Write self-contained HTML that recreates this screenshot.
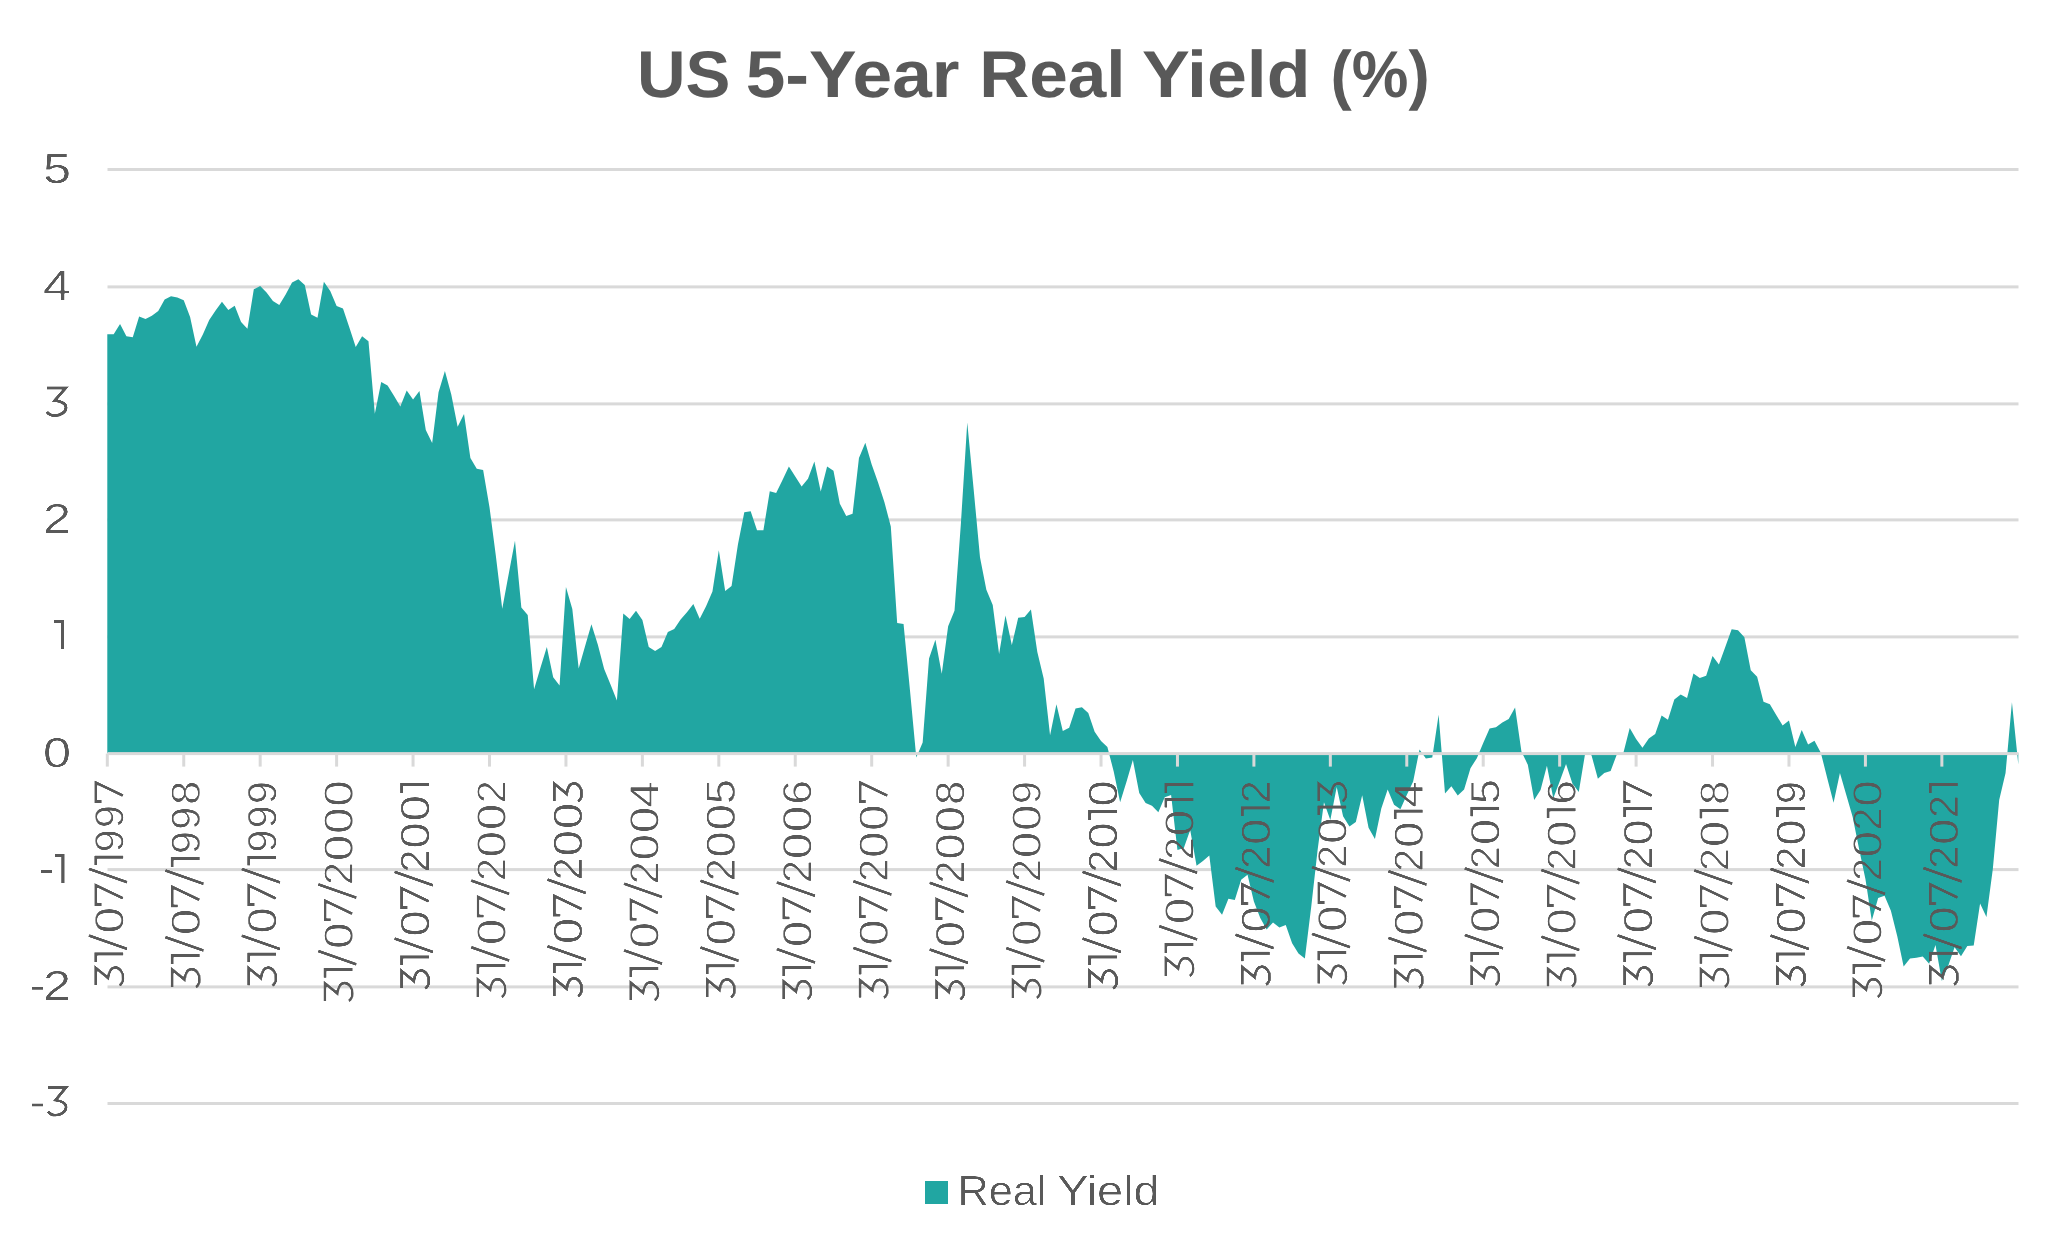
<!DOCTYPE html>
<html><head><meta charset="utf-8"><title>US 5-Year Real Yield (%)</title>
<style>
html,body{margin:0;padding:0;background:#fff;}
body{width:2068px;height:1258px;overflow:hidden;}
svg{display:block;font-family:"Liberation Sans", sans-serif;text-rendering:geometricPrecision;}
</style></head>
<body>
<svg width="2068" height="1258" viewBox="0 0 2068 1258">
<defs><filter id="thin" x="-20%" y="-20%" width="140%" height="140%" color-interpolation-filters="sRGB"><feGaussianBlur stdDeviation="0.6"/><feComponentTransfer><feFuncA type="linear" slope="2.5" intercept="-1.5"/></feComponentTransfer></filter></defs>
<rect width="2068" height="1258" fill="#fff"/>
<rect x="107.5" y="168.00" width="1911" height="3" fill="#d9d9d9"/>
<rect x="107.5" y="285.40" width="1911" height="3" fill="#d9d9d9"/>
<rect x="107.5" y="402.40" width="1911" height="3" fill="#d9d9d9"/>
<rect x="107.5" y="518.40" width="1911" height="3" fill="#d9d9d9"/>
<rect x="107.5" y="635.40" width="1911" height="3" fill="#d9d9d9"/>
<rect x="107.5" y="868.10" width="1911" height="3" fill="#d9d9d9"/>
<rect x="107.5" y="985.40" width="1911" height="3" fill="#d9d9d9"/>
<rect x="107.5" y="1102.00" width="1911" height="3" fill="#d9d9d9"/>
<polygon points="107.30,753.25 107.30,334.20 113.67,334.20 120.04,323.90 126.41,336.20 132.78,337.20 139.15,316.50 145.52,319.10 151.89,315.70 158.26,310.90 164.63,299.40 171.00,296.20 177.37,297.40 183.74,300.20 190.11,316.90 196.48,346.70 202.85,334.40 209.22,320.10 215.59,310.50 221.96,301.80 228.33,310.10 234.70,305.80 241.07,322.10 247.44,328.80 253.81,289.30 260.18,286.10 266.55,292.40 272.92,301.00 279.29,304.90 285.66,294.40 292.03,282.50 298.40,279.30 304.77,284.90 311.14,314.40 317.51,317.70 323.88,281.70 330.25,290.90 336.62,306.00 342.99,308.40 349.36,327.50 355.73,346.90 362.10,336.20 368.47,341.30 374.84,413.70 381.21,382.10 387.58,385.40 393.95,395.80 400.32,406.50 406.69,390.60 413.06,399.50 419.43,390.90 425.80,430.10 432.17,442.90 438.54,392.30 444.91,371.10 451.28,394.50 457.65,426.80 464.02,414.00 470.39,457.90 476.76,468.80 483.13,470.10 489.50,507.20 495.87,555.90 502.24,608.80 508.61,574.50 514.98,540.80 521.35,607.50 527.72,615.10 534.09,689.20 540.46,667.80 546.83,646.90 553.20,677.30 559.57,685.40 565.94,587.00 572.31,609.10 578.68,668.40 585.05,646.30 591.42,624.30 597.79,644.50 604.16,669.00 610.53,684.50 616.90,700.60 623.27,613.50 629.64,618.90 636.01,610.80 642.38,620.10 648.75,646.90 655.12,651.00 661.49,646.90 667.86,632.00 674.23,629.00 680.60,619.40 686.97,612.30 693.34,603.90 699.71,618.80 706.08,606.30 712.45,591.40 718.82,550.30 725.19,591.00 731.56,586.10 737.93,544.50 744.30,512.30 750.67,511.20 757.04,530.20 763.41,530.20 769.78,491.30 776.15,493.00 782.52,480.10 788.89,466.50 795.26,476.50 801.63,486.50 808.00,478.70 814.37,461.50 820.74,491.60 827.11,466.50 833.48,470.80 839.85,503.70 846.22,515.90 852.59,513.70 858.96,457.90 865.33,442.80 871.70,464.50 878.07,482.50 884.44,502.20 890.81,526.60 897.18,623.00 903.55,624.00 909.92,689.70 916.29,757.50 922.66,742.40 929.03,658.60 935.40,639.70 941.77,673.70 948.14,626.20 954.51,610.80 960.88,523.70 967.25,422.60 973.62,489.00 979.99,557.20 986.36,589.70 992.73,605.00 999.10,654.00 1005.47,615.50 1011.84,645.00 1018.21,617.80 1024.58,617.00 1030.95,609.60 1037.32,652.00 1043.69,678.40 1050.06,735.20 1056.43,704.30 1062.80,731.00 1069.17,727.70 1075.54,708.50 1081.91,707.30 1088.28,713.00 1094.65,731.80 1101.02,741.00 1107.39,747.00 1113.76,771.70 1120.13,802.30 1126.50,781.70 1132.87,760.00 1139.24,793.00 1145.61,803.00 1151.98,805.80 1158.35,812.30 1164.72,797.30 1171.09,795.10 1177.46,850.00 1183.83,848.00 1190.20,830.00 1196.57,865.80 1202.94,861.00 1209.31,855.50 1215.68,906.50 1222.05,914.70 1228.42,898.80 1234.79,899.90 1241.16,879.80 1247.53,874.70 1253.90,901.40 1260.27,917.90 1266.64,929.40 1273.01,922.40 1279.38,927.50 1285.75,924.90 1292.12,943.30 1298.49,953.50 1304.86,958.60 1311.23,906.70 1317.60,850.00 1323.97,802.20 1330.34,820.00 1336.71,787.00 1343.08,816.20 1349.45,826.40 1355.82,821.90 1362.19,795.20 1368.56,827.70 1374.93,839.10 1381.30,808.60 1387.67,789.50 1394.04,804.80 1400.41,809.20 1406.78,795.00 1413.15,781.50 1419.52,749.40 1425.89,758.60 1432.26,757.50 1438.63,714.80 1445.00,793.50 1451.37,786.30 1457.74,795.40 1464.11,789.60 1470.48,768.20 1476.85,758.20 1483.22,742.90 1489.59,728.60 1495.96,727.20 1502.33,722.40 1508.70,719.10 1515.07,707.60 1521.44,751.50 1527.81,764.80 1534.18,800.10 1540.55,790.10 1546.92,765.80 1553.29,798.20 1559.66,781.60 1566.03,763.90 1572.40,783.50 1578.77,792.00 1585.14,753.40 1591.51,755.30 1597.88,778.70 1604.25,773.00 1610.62,771.00 1616.99,754.00 1623.36,753.00 1629.73,728.10 1636.10,739.10 1642.47,747.70 1648.84,738.50 1655.21,734.00 1661.58,715.50 1667.95,719.70 1674.32,699.40 1680.69,694.40 1687.06,698.00 1693.43,673.40 1699.80,678.00 1706.17,675.80 1712.54,655.90 1718.91,664.60 1725.28,647.00 1731.65,629.30 1738.02,630.30 1744.39,637.20 1750.76,670.20 1757.13,676.80 1763.50,701.80 1769.87,704.20 1776.24,714.90 1782.61,725.50 1788.98,720.60 1795.35,747.00 1801.72,730.00 1808.09,744.40 1814.46,740.80 1820.83,752.70 1827.20,778.00 1833.57,802.80 1839.94,772.90 1846.31,795.00 1852.68,817.00 1859.05,848.80 1865.42,879.00 1871.79,920.40 1878.16,898.10 1884.53,895.70 1890.90,910.80 1897.27,936.30 1903.64,966.50 1910.01,958.50 1916.38,957.70 1922.75,956.50 1929.12,963.80 1935.49,945.00 1941.86,981.00 1948.23,965.70 1954.60,947.30 1960.97,956.20 1967.34,946.10 1973.71,945.50 1980.08,903.50 1986.45,916.90 1992.82,869.10 1999.19,800.10 2005.56,773.00 2011.93,702.20 2018.30,764.50 2018.30,753.25" fill="#21a6a2"/>
<rect x="107.5" y="752.10" width="1911" height="3" fill="#d9d9d9"/>
<rect x="105.80" y="753.60" width="3" height="13.00" fill="#d9d9d9"/>
<rect x="182.24" y="753.60" width="3" height="13.00" fill="#d9d9d9"/>
<rect x="258.68" y="753.60" width="3" height="13.00" fill="#d9d9d9"/>
<rect x="335.12" y="753.60" width="3" height="13.00" fill="#d9d9d9"/>
<rect x="411.56" y="753.60" width="3" height="13.00" fill="#d9d9d9"/>
<rect x="488.00" y="753.60" width="3" height="13.00" fill="#d9d9d9"/>
<rect x="564.44" y="753.60" width="3" height="13.00" fill="#d9d9d9"/>
<rect x="640.88" y="753.60" width="3" height="13.00" fill="#d9d9d9"/>
<rect x="717.32" y="753.60" width="3" height="13.00" fill="#d9d9d9"/>
<rect x="793.76" y="753.60" width="3" height="13.00" fill="#d9d9d9"/>
<rect x="870.20" y="753.60" width="3" height="13.00" fill="#d9d9d9"/>
<rect x="946.64" y="753.60" width="3" height="13.00" fill="#d9d9d9"/>
<rect x="1023.08" y="753.60" width="3" height="13.00" fill="#d9d9d9"/>
<rect x="1099.52" y="753.60" width="3" height="13.00" fill="#d9d9d9"/>
<rect x="1175.96" y="753.60" width="3" height="13.00" fill="#d9d9d9"/>
<rect x="1252.40" y="753.60" width="3" height="13.00" fill="#d9d9d9"/>
<rect x="1328.84" y="753.60" width="3" height="13.00" fill="#d9d9d9"/>
<rect x="1405.28" y="753.60" width="3" height="13.00" fill="#d9d9d9"/>
<rect x="1481.72" y="753.60" width="3" height="13.00" fill="#d9d9d9"/>
<rect x="1558.16" y="753.60" width="3" height="13.00" fill="#d9d9d9"/>
<rect x="1634.60" y="753.60" width="3" height="13.00" fill="#d9d9d9"/>
<rect x="1711.04" y="753.60" width="3" height="13.00" fill="#d9d9d9"/>
<rect x="1787.48" y="753.60" width="3" height="13.00" fill="#d9d9d9"/>
<rect x="1863.92" y="753.60" width="3" height="13.00" fill="#d9d9d9"/>
<rect x="1940.36" y="753.60" width="3" height="13.00" fill="#d9d9d9"/>
<g filter="url(#thin)">
<text transform="translate(71,183.10) scale(1.2,1)" text-anchor="end" font-size="42" fill="#595959">5</text>
<text transform="translate(71,299.85) scale(1.2,1)" text-anchor="end" font-size="42" fill="#595959">4</text>
<text transform="translate(71,533.35) scale(1.2,1)" text-anchor="end" font-size="42" fill="#595959">2</text>
<text transform="translate(71,766.85) scale(1.2,1)" text-anchor="end" font-size="42" fill="#595959">0</text>
<text transform="translate(71,1000.35) scale(1.2,1)" text-anchor="end" font-size="42" fill="#595959">2</text>
<path transform="translate(46.1,415.70) scale(1.06,1)" d="M 0.7 -27.7 H18.5 L 8.2 -15.2 C 13.5 -14.5 18.8 -12.5 18.8 -8.3 C 18.8 -3.5 13.5 -0.2 8.2 -0.2 C 4.8 -0.2 2 -1.8 0.5 -4.1" fill="none" stroke="#595959" stroke-width="3.4"/>
<path transform="translate(47.3,1115.30) scale(1.0,1)" d="M 0.7 -27.7 H18.5 L 8.2 -15.2 C 13.5 -14.5 18.8 -12.5 18.8 -8.3 C 18.8 -3.5 13.5 -0.2 8.2 -0.2 C 4.8 -0.2 2 -1.8 0.5 -4.1" fill="none" stroke="#595959" stroke-width="3.4"/>
<path d="M64.50 619.90V649.25H60.70V623.20H53.90V619.90Z" fill="#595959"/>
<rect x="40.60" y="869.90" width="11.50" height="3.20" fill="#595959"/>
<path d="M64.80 853.60V882.90H61.10V856.90H54.50V853.60Z" fill="#595959"/>
<rect x="31.60" y="986.50" width="11.80" height="3.40" fill="#595959"/>
<rect x="31.90" y="1103.30" width="11.60" height="3.40" fill="#595959"/>
<g transform="translate(123.30,0) rotate(-90)" font-size="41" fill="#595959"><path transform="translate(-803.07,0)" d="M 1.4 -21.2 V-27.5 H20.5 L 7.3 -0" fill="none" stroke="#595959" stroke-width="3.4"/><text transform="translate(-816.64,0) scale(1.0,1)" text-anchor="middle">9</text><text transform="translate(-840.88,0) scale(1.0,1)" text-anchor="middle">9</text><path d="M-855.30 0.5V-29.4H-865.60V-25.8H-858.90V0.5Z"/><path d="M-882.38 4.3L-868.68 -34.9" stroke="#595959" stroke-width="3.4"/><path transform="translate(-905.76,0)" d="M 1.4 -21.2 V-27.5 H20.5 L 7.3 -0" fill="none" stroke="#595959" stroke-width="3.4"/><text transform="translate(-920.30,0) scale(1.145,1)" text-anchor="middle">0</text><path d="M-949.06 4.3L-935.36 -34.9" stroke="#595959" stroke-width="3.4"/><path d="M-952.14 0.5V-29.4H-962.44V-25.8H-955.74V0.5Z"/><path transform="translate(-986.24,0)" d="M 0.7 -27.7 H18.5 L 8.2 -15.2 C 13.5 -14.5 18.8 -12.5 18.8 -8.3 C 18.8 -3.5 13.5 -0.2 8.2 -0.2 C 4.8 -0.2 2 -1.8 0.5 -4.1" fill="none" stroke="#595959" stroke-width="3.4"/></g>
<g transform="translate(199.74,0) rotate(-90)" font-size="41" fill="#595959"><text transform="translate(-792.88,0) scale(1.05,1)" text-anchor="middle">8</text><text transform="translate(-818.25,0) scale(1.0,1)" text-anchor="middle">9</text><text transform="translate(-842.48,0) scale(1.0,1)" text-anchor="middle">9</text><path d="M-856.90 0.5V-29.4H-867.20V-25.8H-860.50V0.5Z"/><path d="M-883.99 4.3L-870.28 -34.9" stroke="#595959" stroke-width="3.4"/><path transform="translate(-907.37,0)" d="M 1.4 -21.2 V-27.5 H20.5 L 7.3 -0" fill="none" stroke="#595959" stroke-width="3.4"/><text transform="translate(-921.91,0) scale(1.145,1)" text-anchor="middle">0</text><path d="M-950.67 4.3L-936.97 -34.9" stroke="#595959" stroke-width="3.4"/><path d="M-953.75 0.5V-29.4H-964.04V-25.8H-957.35V0.5Z"/><path transform="translate(-987.85,0)" d="M 0.7 -27.7 H18.5 L 8.2 -15.2 C 13.5 -14.5 18.8 -12.5 18.8 -8.3 C 18.8 -3.5 13.5 -0.2 8.2 -0.2 C 4.8 -0.2 2 -1.8 0.5 -4.1" fill="none" stroke="#595959" stroke-width="3.4"/></g>
<g transform="translate(276.18,0) rotate(-90)" font-size="41" fill="#595959"><text transform="translate(-792.57,0) scale(1.0,1)" text-anchor="middle">9</text><text transform="translate(-816.80,0) scale(1.0,1)" text-anchor="middle">9</text><text transform="translate(-841.03,0) scale(1.0,1)" text-anchor="middle">9</text><path d="M-855.46 0.5V-29.4H-865.75V-25.8H-859.06V0.5Z"/><path d="M-882.54 4.3L-868.84 -34.9" stroke="#595959" stroke-width="3.4"/><path transform="translate(-905.92,0)" d="M 1.4 -21.2 V-27.5 H20.5 L 7.3 -0" fill="none" stroke="#595959" stroke-width="3.4"/><text transform="translate(-920.46,0) scale(1.145,1)" text-anchor="middle">0</text><path d="M-949.22 4.3L-935.52 -34.9" stroke="#595959" stroke-width="3.4"/><path d="M-952.30 0.5V-29.4H-962.60V-25.8H-955.90V0.5Z"/><path transform="translate(-986.40,0)" d="M 0.7 -27.7 H18.5 L 8.2 -15.2 C 13.5 -14.5 18.8 -12.5 18.8 -8.3 C 18.8 -3.5 13.5 -0.2 8.2 -0.2 C 4.8 -0.2 2 -1.8 0.5 -4.1" fill="none" stroke="#595959" stroke-width="3.4"/></g>
<g transform="translate(352.62,0) rotate(-90)" font-size="41" fill="#595959"><text transform="translate(-793.54,0) scale(1.145,1)" text-anchor="middle">0</text><text transform="translate(-820.74,0) scale(1.145,1)" text-anchor="middle">0</text><text transform="translate(-847.94,0) scale(1.145,1)" text-anchor="middle">0</text><text transform="translate(-873.52,0) scale(1.0,1)" text-anchor="middle">2</text><path d="M-897.86 4.3L-884.16 -34.9" stroke="#595959" stroke-width="3.4"/><path transform="translate(-921.25,0)" d="M 1.4 -21.2 V-27.5 H20.5 L 7.3 -0" fill="none" stroke="#595959" stroke-width="3.4"/><text transform="translate(-935.78,0) scale(1.145,1)" text-anchor="middle">0</text><path d="M-964.54 4.3L-950.84 -34.9" stroke="#595959" stroke-width="3.4"/><path d="M-967.62 0.5V-29.4H-977.92V-25.8H-971.22V0.5Z"/><path transform="translate(-1001.72,0)" d="M 0.7 -27.7 H18.5 L 8.2 -15.2 C 13.5 -14.5 18.8 -12.5 18.8 -8.3 C 18.8 -3.5 13.5 -0.2 8.2 -0.2 C 4.8 -0.2 2 -1.8 0.5 -4.1" fill="none" stroke="#595959" stroke-width="3.4"/></g>
<g transform="translate(429.06,0) rotate(-90)" font-size="41" fill="#595959"><path d="M-782.76 0.5V-29.4H-793.06V-25.8H-786.37V0.5Z"/><text transform="translate(-808.29,0) scale(1.145,1)" text-anchor="middle">0</text><text transform="translate(-835.49,0) scale(1.145,1)" text-anchor="middle">0</text><text transform="translate(-861.07,0) scale(1.0,1)" text-anchor="middle">2</text><path d="M-885.41 4.3L-871.71 -34.9" stroke="#595959" stroke-width="3.4"/><path transform="translate(-908.79,0)" d="M 1.4 -21.2 V-27.5 H20.5 L 7.3 -0" fill="none" stroke="#595959" stroke-width="3.4"/><text transform="translate(-923.33,0) scale(1.145,1)" text-anchor="middle">0</text><path d="M-952.09 4.3L-938.39 -34.9" stroke="#595959" stroke-width="3.4"/><path d="M-955.17 0.5V-29.4H-965.47V-25.8H-958.77V0.5Z"/><path transform="translate(-989.27,0)" d="M 0.7 -27.7 H18.5 L 8.2 -15.2 C 13.5 -14.5 18.8 -12.5 18.8 -8.3 C 18.8 -3.5 13.5 -0.2 8.2 -0.2 C 4.8 -0.2 2 -1.8 0.5 -4.1" fill="none" stroke="#595959" stroke-width="3.4"/></g>
<g transform="translate(505.50,0) rotate(-90)" font-size="41" fill="#595959"><text transform="translate(-791.91,0) scale(1.0,1)" text-anchor="middle">2</text><text transform="translate(-816.93,0) scale(1.145,1)" text-anchor="middle">0</text><text transform="translate(-844.13,0) scale(1.145,1)" text-anchor="middle">0</text><text transform="translate(-869.71,0) scale(1.0,1)" text-anchor="middle">2</text><path d="M-894.05 4.3L-880.35 -34.9" stroke="#595959" stroke-width="3.4"/><path transform="translate(-917.43,0)" d="M 1.4 -21.2 V-27.5 H20.5 L 7.3 -0" fill="none" stroke="#595959" stroke-width="3.4"/><text transform="translate(-931.97,0) scale(1.145,1)" text-anchor="middle">0</text><path d="M-960.73 4.3L-947.03 -34.9" stroke="#595959" stroke-width="3.4"/><path d="M-963.81 0.5V-29.4H-974.11V-25.8H-967.41V0.5Z"/><path transform="translate(-997.91,0)" d="M 0.7 -27.7 H18.5 L 8.2 -15.2 C 13.5 -14.5 18.8 -12.5 18.8 -8.3 C 18.8 -3.5 13.5 -0.2 8.2 -0.2 C 4.8 -0.2 2 -1.8 0.5 -4.1" fill="none" stroke="#595959" stroke-width="3.4"/></g>
<g transform="translate(581.94,0) rotate(-90)" font-size="41" fill="#595959"><path transform="translate(-802.12,0)" d="M 0.7 -27.7 H18.5 L 8.2 -15.2 C 13.5 -14.5 18.8 -12.5 18.8 -8.3 C 18.8 -3.5 13.5 -0.2 8.2 -0.2 C 4.8 -0.2 2 -1.8 0.5 -4.1" fill="none" stroke="#595959" stroke-width="3.4"/><text transform="translate(-816.00,0) scale(1.145,1)" text-anchor="middle">0</text><text transform="translate(-843.20,0) scale(1.145,1)" text-anchor="middle">0</text><text transform="translate(-868.78,0) scale(1.0,1)" text-anchor="middle">2</text><path d="M-893.12 4.3L-879.42 -34.9" stroke="#595959" stroke-width="3.4"/><path transform="translate(-916.50,0)" d="M 1.4 -21.2 V-27.5 H20.5 L 7.3 -0" fill="none" stroke="#595959" stroke-width="3.4"/><text transform="translate(-931.04,0) scale(1.145,1)" text-anchor="middle">0</text><path d="M-959.80 4.3L-946.10 -34.9" stroke="#595959" stroke-width="3.4"/><path d="M-962.88 0.5V-29.4H-973.18V-25.8H-966.48V0.5Z"/><path transform="translate(-996.98,0)" d="M 0.7 -27.7 H18.5 L 8.2 -15.2 C 13.5 -14.5 18.8 -12.5 18.8 -8.3 C 18.8 -3.5 13.5 -0.2 8.2 -0.2 C 4.8 -0.2 2 -1.8 0.5 -4.1" fill="none" stroke="#595959" stroke-width="3.4"/></g>
<g transform="translate(658.38,0) rotate(-90)" font-size="41" fill="#595959"><text transform="translate(-794.37,0) scale(1.17,1)" text-anchor="middle">4</text><text transform="translate(-820.06,0) scale(1.145,1)" text-anchor="middle">0</text><text transform="translate(-847.26,0) scale(1.145,1)" text-anchor="middle">0</text><text transform="translate(-872.84,0) scale(1.0,1)" text-anchor="middle">2</text><path d="M-897.18 4.3L-883.48 -34.9" stroke="#595959" stroke-width="3.4"/><path transform="translate(-920.56,0)" d="M 1.4 -21.2 V-27.5 H20.5 L 7.3 -0" fill="none" stroke="#595959" stroke-width="3.4"/><text transform="translate(-935.10,0) scale(1.145,1)" text-anchor="middle">0</text><path d="M-963.86 4.3L-950.16 -34.9" stroke="#595959" stroke-width="3.4"/><path d="M-966.94 0.5V-29.4H-977.24V-25.8H-970.54V0.5Z"/><path transform="translate(-1001.04,0)" d="M 0.7 -27.7 H18.5 L 8.2 -15.2 C 13.5 -14.5 18.8 -12.5 18.8 -8.3 C 18.8 -3.5 13.5 -0.2 8.2 -0.2 C 4.8 -0.2 2 -1.8 0.5 -4.1" fill="none" stroke="#595959" stroke-width="3.4"/></g>
<g transform="translate(734.82,0) rotate(-90)" font-size="41" fill="#595959"><text transform="translate(-791.46,0) scale(1.09,1)" text-anchor="middle">5</text><text transform="translate(-817.17,0) scale(1.145,1)" text-anchor="middle">0</text><text transform="translate(-844.37,0) scale(1.145,1)" text-anchor="middle">0</text><text transform="translate(-869.95,0) scale(1.0,1)" text-anchor="middle">2</text><path d="M-894.29 4.3L-880.59 -34.9" stroke="#595959" stroke-width="3.4"/><path transform="translate(-917.67,0)" d="M 1.4 -21.2 V-27.5 H20.5 L 7.3 -0" fill="none" stroke="#595959" stroke-width="3.4"/><text transform="translate(-932.21,0) scale(1.145,1)" text-anchor="middle">0</text><path d="M-960.97 4.3L-947.27 -34.9" stroke="#595959" stroke-width="3.4"/><path d="M-964.05 0.5V-29.4H-974.35V-25.8H-967.65V0.5Z"/><path transform="translate(-998.15,0)" d="M 0.7 -27.7 H18.5 L 8.2 -15.2 C 13.5 -14.5 18.8 -12.5 18.8 -8.3 C 18.8 -3.5 13.5 -0.2 8.2 -0.2 C 4.8 -0.2 2 -1.8 0.5 -4.1" fill="none" stroke="#595959" stroke-width="3.4"/></g>
<g transform="translate(811.26,0) rotate(-90)" font-size="41" fill="#595959"><text transform="translate(-792.29,0) scale(1.07,1)" text-anchor="middle">6</text><text transform="translate(-818.85,0) scale(1.145,1)" text-anchor="middle">0</text><text transform="translate(-846.05,0) scale(1.145,1)" text-anchor="middle">0</text><text transform="translate(-871.62,0) scale(1.0,1)" text-anchor="middle">2</text><path d="M-895.97 4.3L-882.26 -34.9" stroke="#595959" stroke-width="3.4"/><path transform="translate(-919.35,0)" d="M 1.4 -21.2 V-27.5 H20.5 L 7.3 -0" fill="none" stroke="#595959" stroke-width="3.4"/><text transform="translate(-933.89,0) scale(1.145,1)" text-anchor="middle">0</text><path d="M-962.65 4.3L-948.95 -34.9" stroke="#595959" stroke-width="3.4"/><path d="M-965.73 0.5V-29.4H-976.02V-25.8H-969.33V0.5Z"/><path transform="translate(-999.83,0)" d="M 0.7 -27.7 H18.5 L 8.2 -15.2 C 13.5 -14.5 18.8 -12.5 18.8 -8.3 C 18.8 -3.5 13.5 -0.2 8.2 -0.2 C 4.8 -0.2 2 -1.8 0.5 -4.1" fill="none" stroke="#595959" stroke-width="3.4"/></g>
<g transform="translate(887.70,0) rotate(-90)" font-size="41" fill="#595959"><path transform="translate(-803.07,0)" d="M 1.4 -21.2 V-27.5 H20.5 L 7.3 -0" fill="none" stroke="#595959" stroke-width="3.4"/><text transform="translate(-817.61,0) scale(1.145,1)" text-anchor="middle">0</text><text transform="translate(-844.81,0) scale(1.145,1)" text-anchor="middle">0</text><text transform="translate(-870.39,0) scale(1.0,1)" text-anchor="middle">2</text><path d="M-894.73 4.3L-881.03 -34.9" stroke="#595959" stroke-width="3.4"/><path transform="translate(-918.12,0)" d="M 1.4 -21.2 V-27.5 H20.5 L 7.3 -0" fill="none" stroke="#595959" stroke-width="3.4"/><text transform="translate(-932.65,0) scale(1.145,1)" text-anchor="middle">0</text><path d="M-961.41 4.3L-947.71 -34.9" stroke="#595959" stroke-width="3.4"/><path d="M-964.49 0.5V-29.4H-974.79V-25.8H-968.09V0.5Z"/><path transform="translate(-998.59,0)" d="M 0.7 -27.7 H18.5 L 8.2 -15.2 C 13.5 -14.5 18.8 -12.5 18.8 -8.3 C 18.8 -3.5 13.5 -0.2 8.2 -0.2 C 4.8 -0.2 2 -1.8 0.5 -4.1" fill="none" stroke="#595959" stroke-width="3.4"/></g>
<g transform="translate(964.14,0) rotate(-90)" font-size="41" fill="#595959"><text transform="translate(-792.88,0) scale(1.05,1)" text-anchor="middle">8</text><text transform="translate(-819.22,0) scale(1.145,1)" text-anchor="middle">0</text><text transform="translate(-846.42,0) scale(1.145,1)" text-anchor="middle">0</text><text transform="translate(-872.00,0) scale(1.0,1)" text-anchor="middle">2</text><path d="M-896.34 4.3L-882.63 -34.9" stroke="#595959" stroke-width="3.4"/><path transform="translate(-919.72,0)" d="M 1.4 -21.2 V-27.5 H20.5 L 7.3 -0" fill="none" stroke="#595959" stroke-width="3.4"/><text transform="translate(-934.26,0) scale(1.145,1)" text-anchor="middle">0</text><path d="M-963.02 4.3L-949.32 -34.9" stroke="#595959" stroke-width="3.4"/><path d="M-966.10 0.5V-29.4H-976.39V-25.8H-969.70V0.5Z"/><path transform="translate(-1000.20,0)" d="M 0.7 -27.7 H18.5 L 8.2 -15.2 C 13.5 -14.5 18.8 -12.5 18.8 -8.3 C 18.8 -3.5 13.5 -0.2 8.2 -0.2 C 4.8 -0.2 2 -1.8 0.5 -4.1" fill="none" stroke="#595959" stroke-width="3.4"/></g>
<g transform="translate(1040.58,0) rotate(-90)" font-size="41" fill="#595959"><text transform="translate(-792.57,0) scale(1.0,1)" text-anchor="middle">9</text><text transform="translate(-817.77,0) scale(1.145,1)" text-anchor="middle">0</text><text transform="translate(-844.97,0) scale(1.145,1)" text-anchor="middle">0</text><text transform="translate(-870.55,0) scale(1.0,1)" text-anchor="middle">2</text><path d="M-894.89 4.3L-881.19 -34.9" stroke="#595959" stroke-width="3.4"/><path transform="translate(-918.27,0)" d="M 1.4 -21.2 V-27.5 H20.5 L 7.3 -0" fill="none" stroke="#595959" stroke-width="3.4"/><text transform="translate(-932.81,0) scale(1.145,1)" text-anchor="middle">0</text><path d="M-961.57 4.3L-947.87 -34.9" stroke="#595959" stroke-width="3.4"/><path d="M-964.65 0.5V-29.4H-974.95V-25.8H-968.25V0.5Z"/><path transform="translate(-998.75,0)" d="M 0.7 -27.7 H18.5 L 8.2 -15.2 C 13.5 -14.5 18.8 -12.5 18.8 -8.3 C 18.8 -3.5 13.5 -0.2 8.2 -0.2 C 4.8 -0.2 2 -1.8 0.5 -4.1" fill="none" stroke="#595959" stroke-width="3.4"/></g>
<g transform="translate(1117.02,0) rotate(-90)" font-size="41" fill="#595959"><text transform="translate(-793.54,0) scale(1.145,1)" text-anchor="middle">0</text><path d="M-809.97 0.5V-29.4H-820.26V-25.8H-813.57V0.5Z"/><text transform="translate(-835.49,0) scale(1.145,1)" text-anchor="middle">0</text><text transform="translate(-861.07,0) scale(1.0,1)" text-anchor="middle">2</text><path d="M-885.41 4.3L-871.71 -34.9" stroke="#595959" stroke-width="3.4"/><path transform="translate(-908.79,0)" d="M 1.4 -21.2 V-27.5 H20.5 L 7.3 -0" fill="none" stroke="#595959" stroke-width="3.4"/><text transform="translate(-923.33,0) scale(1.145,1)" text-anchor="middle">0</text><path d="M-952.09 4.3L-938.39 -34.9" stroke="#595959" stroke-width="3.4"/><path d="M-955.17 0.5V-29.4H-965.47V-25.8H-958.77V0.5Z"/><path transform="translate(-989.27,0)" d="M 0.7 -27.7 H18.5 L 8.2 -15.2 C 13.5 -14.5 18.8 -12.5 18.8 -8.3 C 18.8 -3.5 13.5 -0.2 8.2 -0.2 C 4.8 -0.2 2 -1.8 0.5 -4.1" fill="none" stroke="#595959" stroke-width="3.4"/></g>
<g transform="translate(1193.46,0) rotate(-90)" font-size="41" fill="#595959"><path d="M-782.76 0.5V-29.4H-793.06V-25.8H-786.37V0.5Z"/><path d="M-797.51 0.5V-29.4H-807.81V-25.8H-801.12V0.5Z"/><text transform="translate(-823.04,0) scale(1.145,1)" text-anchor="middle">0</text><text transform="translate(-848.62,0) scale(1.0,1)" text-anchor="middle">2</text><path d="M-872.96 4.3L-859.25 -34.9" stroke="#595959" stroke-width="3.4"/><path transform="translate(-896.34,0)" d="M 1.4 -21.2 V-27.5 H20.5 L 7.3 -0" fill="none" stroke="#595959" stroke-width="3.4"/><text transform="translate(-910.88,0) scale(1.145,1)" text-anchor="middle">0</text><path d="M-939.64 4.3L-925.94 -34.9" stroke="#595959" stroke-width="3.4"/><path d="M-942.72 0.5V-29.4H-953.01V-25.8H-946.32V0.5Z"/><path transform="translate(-976.82,0)" d="M 0.7 -27.7 H18.5 L 8.2 -15.2 C 13.5 -14.5 18.8 -12.5 18.8 -8.3 C 18.8 -3.5 13.5 -0.2 8.2 -0.2 C 4.8 -0.2 2 -1.8 0.5 -4.1" fill="none" stroke="#595959" stroke-width="3.4"/></g>
<g transform="translate(1269.90,0) rotate(-90)" font-size="41" fill="#595959"><text transform="translate(-791.91,0) scale(1.0,1)" text-anchor="middle">2</text><path d="M-806.15 0.5V-29.4H-816.45V-25.8H-809.75V0.5Z"/><text transform="translate(-831.68,0) scale(1.145,1)" text-anchor="middle">0</text><text transform="translate(-857.25,0) scale(1.0,1)" text-anchor="middle">2</text><path d="M-881.60 4.3L-867.89 -34.9" stroke="#595959" stroke-width="3.4"/><path transform="translate(-904.98,0)" d="M 1.4 -21.2 V-27.5 H20.5 L 7.3 -0" fill="none" stroke="#595959" stroke-width="3.4"/><text transform="translate(-919.52,0) scale(1.145,1)" text-anchor="middle">0</text><path d="M-948.28 4.3L-934.58 -34.9" stroke="#595959" stroke-width="3.4"/><path d="M-951.36 0.5V-29.4H-961.65V-25.8H-954.96V0.5Z"/><path transform="translate(-985.46,0)" d="M 0.7 -27.7 H18.5 L 8.2 -15.2 C 13.5 -14.5 18.8 -12.5 18.8 -8.3 C 18.8 -3.5 13.5 -0.2 8.2 -0.2 C 4.8 -0.2 2 -1.8 0.5 -4.1" fill="none" stroke="#595959" stroke-width="3.4"/></g>
<g transform="translate(1346.34,0) rotate(-90)" font-size="41" fill="#595959"><path transform="translate(-802.12,0)" d="M 0.7 -27.7 H18.5 L 8.2 -15.2 C 13.5 -14.5 18.8 -12.5 18.8 -8.3 C 18.8 -3.5 13.5 -0.2 8.2 -0.2 C 4.8 -0.2 2 -1.8 0.5 -4.1" fill="none" stroke="#595959" stroke-width="3.4"/><path d="M-805.23 0.5V-29.4H-815.52V-25.8H-808.83V0.5Z"/><text transform="translate(-830.75,0) scale(1.145,1)" text-anchor="middle">0</text><text transform="translate(-856.33,0) scale(1.0,1)" text-anchor="middle">2</text><path d="M-880.67 4.3L-866.97 -34.9" stroke="#595959" stroke-width="3.4"/><path transform="translate(-904.05,0)" d="M 1.4 -21.2 V-27.5 H20.5 L 7.3 -0" fill="none" stroke="#595959" stroke-width="3.4"/><text transform="translate(-918.59,0) scale(1.145,1)" text-anchor="middle">0</text><path d="M-947.35 4.3L-933.65 -34.9" stroke="#595959" stroke-width="3.4"/><path d="M-950.43 0.5V-29.4H-960.73V-25.8H-954.03V0.5Z"/><path transform="translate(-984.53,0)" d="M 0.7 -27.7 H18.5 L 8.2 -15.2 C 13.5 -14.5 18.8 -12.5 18.8 -8.3 C 18.8 -3.5 13.5 -0.2 8.2 -0.2 C 4.8 -0.2 2 -1.8 0.5 -4.1" fill="none" stroke="#595959" stroke-width="3.4"/></g>
<g transform="translate(1422.78,0) rotate(-90)" font-size="41" fill="#595959"><text transform="translate(-794.37,0) scale(1.17,1)" text-anchor="middle">4</text><path d="M-809.28 0.5V-29.4H-819.58V-25.8H-812.88V0.5Z"/><text transform="translate(-834.81,0) scale(1.145,1)" text-anchor="middle">0</text><text transform="translate(-860.38,0) scale(1.0,1)" text-anchor="middle">2</text><path d="M-884.73 4.3L-871.02 -34.9" stroke="#595959" stroke-width="3.4"/><path transform="translate(-908.11,0)" d="M 1.4 -21.2 V-27.5 H20.5 L 7.3 -0" fill="none" stroke="#595959" stroke-width="3.4"/><text transform="translate(-922.65,0) scale(1.145,1)" text-anchor="middle">0</text><path d="M-951.41 4.3L-937.71 -34.9" stroke="#595959" stroke-width="3.4"/><path d="M-954.49 0.5V-29.4H-964.78V-25.8H-958.09V0.5Z"/><path transform="translate(-988.59,0)" d="M 0.7 -27.7 H18.5 L 8.2 -15.2 C 13.5 -14.5 18.8 -12.5 18.8 -8.3 C 18.8 -3.5 13.5 -0.2 8.2 -0.2 C 4.8 -0.2 2 -1.8 0.5 -4.1" fill="none" stroke="#595959" stroke-width="3.4"/></g>
<g transform="translate(1499.22,0) rotate(-90)" font-size="41" fill="#595959"><text transform="translate(-791.46,0) scale(1.09,1)" text-anchor="middle">5</text><path d="M-806.39 0.5V-29.4H-816.69V-25.8H-810.00V0.5Z"/><text transform="translate(-831.92,0) scale(1.145,1)" text-anchor="middle">0</text><text transform="translate(-857.50,0) scale(1.0,1)" text-anchor="middle">2</text><path d="M-881.84 4.3L-868.13 -34.9" stroke="#595959" stroke-width="3.4"/><path transform="translate(-905.22,0)" d="M 1.4 -21.2 V-27.5 H20.5 L 7.3 -0" fill="none" stroke="#595959" stroke-width="3.4"/><text transform="translate(-919.76,0) scale(1.145,1)" text-anchor="middle">0</text><path d="M-948.52 4.3L-934.82 -34.9" stroke="#595959" stroke-width="3.4"/><path d="M-951.60 0.5V-29.4H-961.89V-25.8H-955.20V0.5Z"/><path transform="translate(-985.70,0)" d="M 0.7 -27.7 H18.5 L 8.2 -15.2 C 13.5 -14.5 18.8 -12.5 18.8 -8.3 C 18.8 -3.5 13.5 -0.2 8.2 -0.2 C 4.8 -0.2 2 -1.8 0.5 -4.1" fill="none" stroke="#595959" stroke-width="3.4"/></g>
<g transform="translate(1575.66,0) rotate(-90)" font-size="41" fill="#595959"><text transform="translate(-792.29,0) scale(1.07,1)" text-anchor="middle">6</text><path d="M-808.07 0.5V-29.4H-818.37V-25.8H-811.67V0.5Z"/><text transform="translate(-833.60,0) scale(1.145,1)" text-anchor="middle">0</text><text transform="translate(-859.17,0) scale(1.0,1)" text-anchor="middle">2</text><path d="M-883.51 4.3L-869.81 -34.9" stroke="#595959" stroke-width="3.4"/><path transform="translate(-906.90,0)" d="M 1.4 -21.2 V-27.5 H20.5 L 7.3 -0" fill="none" stroke="#595959" stroke-width="3.4"/><text transform="translate(-921.44,0) scale(1.145,1)" text-anchor="middle">0</text><path d="M-950.20 4.3L-936.50 -34.9" stroke="#595959" stroke-width="3.4"/><path d="M-953.27 0.5V-29.4H-963.57V-25.8H-956.88V0.5Z"/><path transform="translate(-987.38,0)" d="M 0.7 -27.7 H18.5 L 8.2 -15.2 C 13.5 -14.5 18.8 -12.5 18.8 -8.3 C 18.8 -3.5 13.5 -0.2 8.2 -0.2 C 4.8 -0.2 2 -1.8 0.5 -4.1" fill="none" stroke="#595959" stroke-width="3.4"/></g>
<g transform="translate(1652.10,0) rotate(-90)" font-size="41" fill="#595959"><path transform="translate(-803.07,0)" d="M 1.4 -21.2 V-27.5 H20.5 L 7.3 -0" fill="none" stroke="#595959" stroke-width="3.4"/><path d="M-806.84 0.5V-29.4H-817.13V-25.8H-810.44V0.5Z"/><text transform="translate(-832.36,0) scale(1.145,1)" text-anchor="middle">0</text><text transform="translate(-857.94,0) scale(1.0,1)" text-anchor="middle">2</text><path d="M-882.28 4.3L-868.58 -34.9" stroke="#595959" stroke-width="3.4"/><path transform="translate(-905.66,0)" d="M 1.4 -21.2 V-27.5 H20.5 L 7.3 -0" fill="none" stroke="#595959" stroke-width="3.4"/><text transform="translate(-920.20,0) scale(1.145,1)" text-anchor="middle">0</text><path d="M-948.96 4.3L-935.26 -34.9" stroke="#595959" stroke-width="3.4"/><path d="M-952.04 0.5V-29.4H-962.34V-25.8H-955.64V0.5Z"/><path transform="translate(-986.14,0)" d="M 0.7 -27.7 H18.5 L 8.2 -15.2 C 13.5 -14.5 18.8 -12.5 18.8 -8.3 C 18.8 -3.5 13.5 -0.2 8.2 -0.2 C 4.8 -0.2 2 -1.8 0.5 -4.1" fill="none" stroke="#595959" stroke-width="3.4"/></g>
<g transform="translate(1728.54,0) rotate(-90)" font-size="41" fill="#595959"><text transform="translate(-792.88,0) scale(1.05,1)" text-anchor="middle">8</text><path d="M-808.44 0.5V-29.4H-818.74V-25.8H-812.04V0.5Z"/><text transform="translate(-833.97,0) scale(1.145,1)" text-anchor="middle">0</text><text transform="translate(-859.54,0) scale(1.0,1)" text-anchor="middle">2</text><path d="M-883.88 4.3L-870.18 -34.9" stroke="#595959" stroke-width="3.4"/><path transform="translate(-907.27,0)" d="M 1.4 -21.2 V-27.5 H20.5 L 7.3 -0" fill="none" stroke="#595959" stroke-width="3.4"/><text transform="translate(-921.81,0) scale(1.145,1)" text-anchor="middle">0</text><path d="M-950.57 4.3L-936.87 -34.9" stroke="#595959" stroke-width="3.4"/><path d="M-953.64 0.5V-29.4H-963.94V-25.8H-957.25V0.5Z"/><path transform="translate(-987.75,0)" d="M 0.7 -27.7 H18.5 L 8.2 -15.2 C 13.5 -14.5 18.8 -12.5 18.8 -8.3 C 18.8 -3.5 13.5 -0.2 8.2 -0.2 C 4.8 -0.2 2 -1.8 0.5 -4.1" fill="none" stroke="#595959" stroke-width="3.4"/></g>
<g transform="translate(1804.98,0) rotate(-90)" font-size="41" fill="#595959"><text transform="translate(-792.57,0) scale(1.0,1)" text-anchor="middle">9</text><path d="M-807.00 0.5V-29.4H-817.29V-25.8H-810.60V0.5Z"/><text transform="translate(-832.52,0) scale(1.145,1)" text-anchor="middle">0</text><text transform="translate(-858.10,0) scale(1.0,1)" text-anchor="middle">2</text><path d="M-882.44 4.3L-868.74 -34.9" stroke="#595959" stroke-width="3.4"/><path transform="translate(-905.82,0)" d="M 1.4 -21.2 V-27.5 H20.5 L 7.3 -0" fill="none" stroke="#595959" stroke-width="3.4"/><text transform="translate(-920.36,0) scale(1.145,1)" text-anchor="middle">0</text><path d="M-949.12 4.3L-935.42 -34.9" stroke="#595959" stroke-width="3.4"/><path d="M-952.20 0.5V-29.4H-962.50V-25.8H-955.80V0.5Z"/><path transform="translate(-986.30,0)" d="M 0.7 -27.7 H18.5 L 8.2 -15.2 C 13.5 -14.5 18.8 -12.5 18.8 -8.3 C 18.8 -3.5 13.5 -0.2 8.2 -0.2 C 4.8 -0.2 2 -1.8 0.5 -4.1" fill="none" stroke="#595959" stroke-width="3.4"/></g>
<g transform="translate(1881.42,0) rotate(-90)" font-size="41" fill="#595959"><text transform="translate(-793.54,0) scale(1.145,1)" text-anchor="middle">0</text><text transform="translate(-819.12,0) scale(1.0,1)" text-anchor="middle">2</text><text transform="translate(-844.13,0) scale(1.145,1)" text-anchor="middle">0</text><text transform="translate(-869.71,0) scale(1.0,1)" text-anchor="middle">2</text><path d="M-894.05 4.3L-880.35 -34.9" stroke="#595959" stroke-width="3.4"/><path transform="translate(-917.43,0)" d="M 1.4 -21.2 V-27.5 H20.5 L 7.3 -0" fill="none" stroke="#595959" stroke-width="3.4"/><text transform="translate(-931.97,0) scale(1.145,1)" text-anchor="middle">0</text><path d="M-960.73 4.3L-947.03 -34.9" stroke="#595959" stroke-width="3.4"/><path d="M-963.81 0.5V-29.4H-974.11V-25.8H-967.41V0.5Z"/><path transform="translate(-997.91,0)" d="M 0.7 -27.7 H18.5 L 8.2 -15.2 C 13.5 -14.5 18.8 -12.5 18.8 -8.3 C 18.8 -3.5 13.5 -0.2 8.2 -0.2 C 4.8 -0.2 2 -1.8 0.5 -4.1" fill="none" stroke="#595959" stroke-width="3.4"/></g>
<g transform="translate(1957.86,0) rotate(-90)" font-size="41" fill="#595959"><path d="M-782.76 0.5V-29.4H-793.06V-25.8H-786.37V0.5Z"/><text transform="translate(-806.66,0) scale(1.0,1)" text-anchor="middle">2</text><text transform="translate(-831.68,0) scale(1.145,1)" text-anchor="middle">0</text><text transform="translate(-857.25,0) scale(1.0,1)" text-anchor="middle">2</text><path d="M-881.60 4.3L-867.89 -34.9" stroke="#595959" stroke-width="3.4"/><path transform="translate(-904.98,0)" d="M 1.4 -21.2 V-27.5 H20.5 L 7.3 -0" fill="none" stroke="#595959" stroke-width="3.4"/><text transform="translate(-919.52,0) scale(1.145,1)" text-anchor="middle">0</text><path d="M-948.28 4.3L-934.58 -34.9" stroke="#595959" stroke-width="3.4"/><path d="M-951.36 0.5V-29.4H-961.65V-25.8H-954.96V0.5Z"/><path transform="translate(-985.46,0)" d="M 0.7 -27.7 H18.5 L 8.2 -15.2 C 13.5 -14.5 18.8 -12.5 18.8 -8.3 C 18.8 -3.5 13.5 -0.2 8.2 -0.2 C 4.8 -0.2 2 -1.8 0.5 -4.1" fill="none" stroke="#595959" stroke-width="3.4"/></g>
</g>
<text x="637.0" y="97" font-size="66" font-weight="bold" fill="#595959" textLength="93.5" lengthAdjust="spacingAndGlyphs">US</text>
<text x="745.7" y="97" font-size="66" font-weight="bold" fill="#595959" textLength="213.8" lengthAdjust="spacingAndGlyphs">5-Year</text>
<text x="979.2" y="97" font-size="66" font-weight="bold" fill="#595959" textLength="146.3" lengthAdjust="spacingAndGlyphs">Real</text>
<text x="1141.9" y="97" font-size="66" font-weight="bold" fill="#595959" textLength="168.6" lengthAdjust="spacingAndGlyphs">Yield</text>
<text x="1330.6" y="97" font-size="66" font-weight="bold" fill="#595959" textLength="99.1" lengthAdjust="spacingAndGlyphs">(%)</text>
<rect x="925" y="1181" width="23" height="23" fill="#21a6a2"/>
<g filter="url(#thin)"><text x="957.4" y="1204.6" font-size="42" fill="#595959" textLength="89" lengthAdjust="spacingAndGlyphs">Real</text><text x="1057.2" y="1204.6" font-size="42" fill="#595959" textLength="102.5" lengthAdjust="spacingAndGlyphs">Yield</text></g>
</svg>
</body></html>
